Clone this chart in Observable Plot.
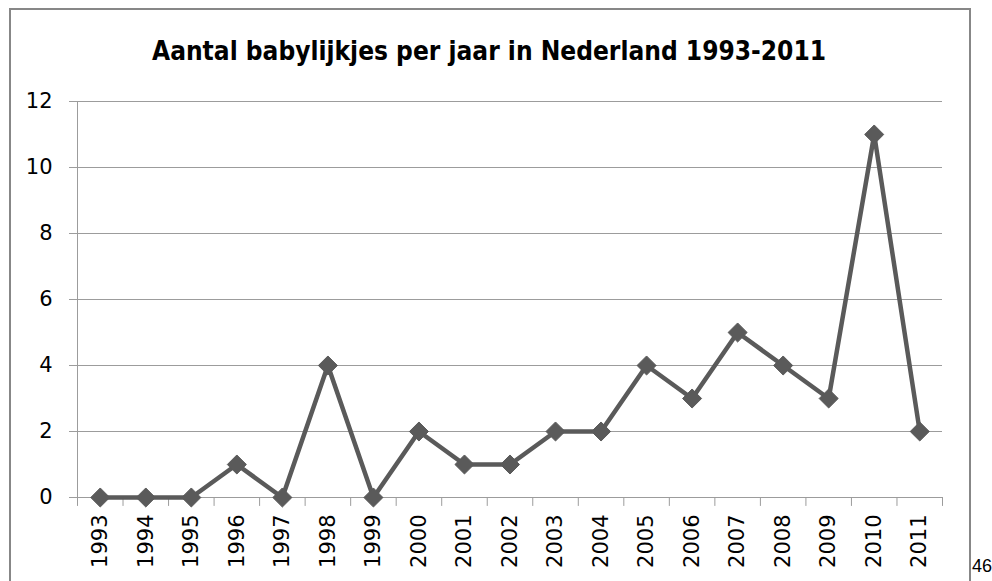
<!DOCTYPE html>
<html>
<head>
<meta charset="utf-8">
<script src="https://cdn.jsdelivr.net/npm/d3@7"></script>
<script src="https://cdn.jsdelivr.net/npm/@observablehq/plot@0.6"></script>
<style>
  html, body { margin: 0; padding: 0; background: #fff; overflow: hidden; }
  #wrap { position: relative; width: 992px; height: 581px; overflow: hidden; }
  #box { position: absolute; left: 9px; top: 8px; width: 962px; height: 620px; box-sizing: border-box; border: 2px solid #878787; border-bottom: none; }
  #chart { position: absolute; left: 0; top: 0; }
  #title { position: absolute; left: 0; top: 0; }
  #page { position: absolute; left: 972px; top: 556px; font-family: "Liberation Sans", Arial, sans-serif; font-size: 18px; color: #000; }
</style>
</head>
<body>
<div id="wrap">
  <div id="box"></div>
  <div id="chart"></div>
  <svg id="title" width="992" height="90">
    <text x="489" y="60" text-anchor="middle" font-family="DejaVu Sans, sans-serif" font-weight="bold" font-size="27" textLength="674" lengthAdjust="spacingAndGlyphs">Aantal babylijkjes per jaar in Nederland 1993-2011</text>
  </svg>
  <div id="page">46</div>
</div>
<script>
const years = [1993, 1994, 1995, 1996, 1997, 1998, 1999, 2000, 2001, 2002, 2003, 2004, 2005, 2006, 2007, 2008, 2009, 2010, 2011];
const counts = [0, 0, 0, 1, 0, 4, 0, 2, 1, 1, 2, 2, 4, 3, 5, 4, 3, 11, 2];
const yTicks = [0, 2, 4, 6, 8, 10, 12];

const data = years.map((y, i) => ({year: y, count: counts[i]}));
const boundaries = [years[0] - 0.5, ...years.map(y => y + 0.5)];

const diamond = {
  draw(context, size) {
    const r = Math.sqrt(size / 2);
    context.moveTo(0, -r);
    context.lineTo(r, 0);
    context.lineTo(0, r);
    context.lineTo(-r, 0);
    context.closePath();
  }
};

const gridColor = "#9c9c9c";
const lineColor = "#5a5a5a";

const chart = Plot.plot({
  width: 992,
  height: 581,
  marginLeft: 77,
  marginRight: 50,
  marginTop: 101,
  marginBottom: 84,
  style: {background: "transparent", fontFamily: "DejaVu Sans, sans-serif", color: "#000"},
  x: {type: "linear", domain: [years[0] - 0.5, years[years.length - 1] + 0.5]},
  y: {domain: [0, 12]},
  marks: [
    Plot.gridY(yTicks, {stroke: gridColor, strokeOpacity: 1, strokeWidth: 1}),
    Plot.axisY(yTicks, {tickSize: 8, tickPadding: 17, stroke: gridColor, fill: "#000", fontSize: 21, label: null}),
    Plot.ruleX([years[0] - 0.5], {y1: 0, y2: 12, stroke: gridColor, strokeWidth: 1}),
    Plot.ruleX(boundaries, {y1: 0, y2: -0.27, stroke: gridColor, strokeWidth: 1}),
    Plot.axisX(years, {tickSize: 0, tickPadding: 17, tickRotate: -90, fontSize: 21, fill: "#000", tickFormat: d => String(d), label: null}),
    Plot.line(data, {x: "year", y: "count", stroke: lineColor, strokeWidth: 4.5, strokeLinejoin: "miter"}),
    Plot.dot(data, {x: "year", y: "count", symbol: diamond, r: 7.6, fill: lineColor, stroke: lineColor, strokeWidth: 1})
  ]
});
document.getElementById("chart").appendChild(chart);
</script>
</body>
</html>
